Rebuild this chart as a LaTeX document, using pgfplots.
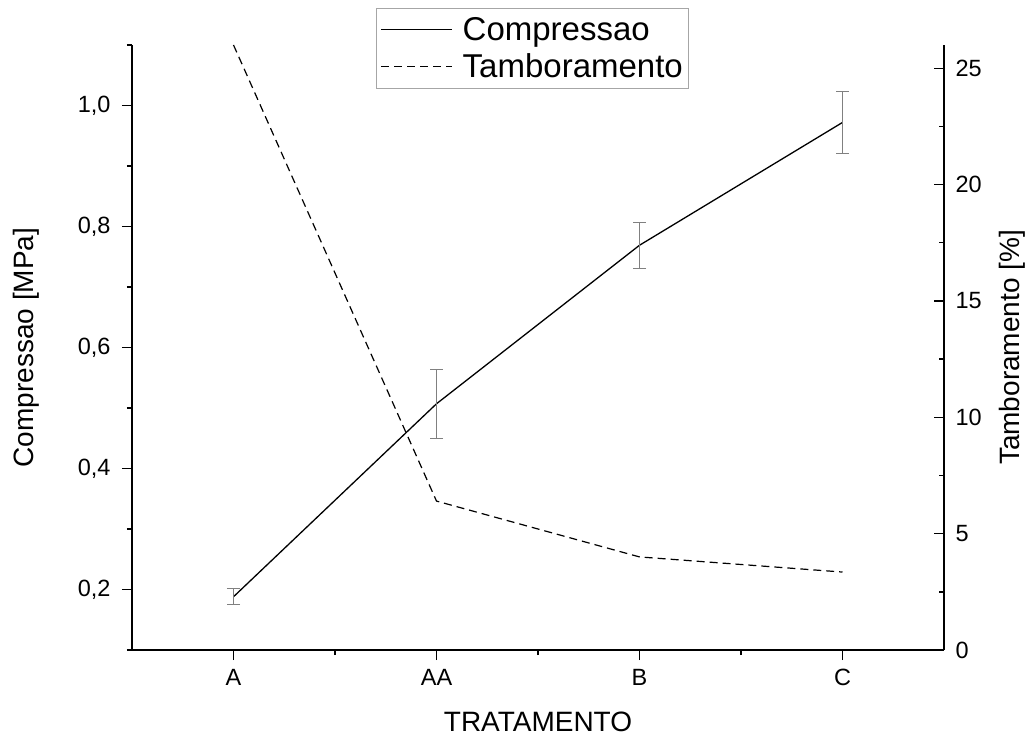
\documentclass[border=0pt]{standalone}
\usepackage{fontspec}
\setmainfont{Liberation Sans}
\usepackage{pgfplots}
\pgfplotsset{compat=1.18}
\begin{document}
\begin{tikzpicture}
\path[use as bounding box] (-132pt,-86pt) rectangle (895pt,650pt);
\pgfplotsset{
  common/.style={
    scale only axis, width=812pt, height=605pt, at={(0,0)}, anchor=south west,
    xmin=-0.5, xmax=3.5,
    axis line style={-, line width=1.4pt},
    every tick/.style={black, line width=1.4pt},
    major tick length=10pt, minor tick length=5pt,
    tick label style={font=\fontsize{23.5}{27}\selectfont},
    /pgf/number format/assume math mode=true,
    label style={font=\fontsize{28}{32}\selectfont},
  }
}
\begin{axis}[common,
  ymin=0.1, ymax=1.1,
  axis x line*=bottom, axis y line*=left,
  tick align=outside,
  xtick={0,1,2,3}, xticklabels={A,AA,B,C},
  minor xtick={0.5,1.5,2.5},
  ytick={0.2,0.4,0.6,0.8,1.0}, minor ytick={0.1,0.3,0.5,0.7,0.9,1.1},
  yticklabel style={xshift=-8pt, /pgf/number format/.cd, use comma, fixed, fixed zerofill, precision=1},
  xticklabel style={yshift=-6pt},
  xlabel={TRATAMENTO}, ylabel={Compressao [MPa]},
  xlabel style={at={(axis description cs:0.5,-0.118)}, anchor=center},
  ylabel style={at={(axis description cs:-0.1300,0.5)}, anchor=center, rotate=0},
]
\addplot[black, line width=1.3pt,
  error bars/.cd, y dir=both, y explicit,
  error bar style={gray, line width=1pt},
  error mark options={gray, rotate=90, mark size=6.5pt, line width=1pt}]
  coordinates {
    (0,0.188) +- (0,0.0135)
    (1,0.507) +- (0,0.057)
    (2,0.769) +- (0,0.038)
    (3,0.972) +- (0,0.0515)
  };
\end{axis}
\begin{axis}[common,
  ymin=0, ymax=26,
  axis x line=none, axis y line*=right,
  tick align=inside,
  ytick={0,5,10,15,20,25}, minor ytick={2.5,7.5,12.5,17.5,22.5},
  yticklabel style={xshift=8pt},
  ylabel={Tamboramento [\%]},
  ylabel style={at={(axis description cs:1.0837,0.5)}, anchor=center},
  legend style={at={(axis description cs:0.3005,1.061)}, anchor=north west,
    draw=gray!70, line width=0.8pt, font=\fontsize{33}{36}\selectfont,
    inner xsep=4pt, inner ysep=7pt, row sep=8pt,
    /tikz/every odd column/.append style={column sep=8pt}},
  legend cell align=left,
  legend image code/.code={\draw[#1] (0pt,0pt) -- (71pt,0pt);},
]
\addlegendimage{black, line width=1.3pt}
\addlegendentry{Compressao}
\addplot[black, line width=1.2pt, dash pattern=on 8pt off 5pt]
  coordinates {(0,26) (1,6.4) (2,4.0) (3,3.35)};
\addlegendentry{Tamboramento}
\end{axis}
\end{tikzpicture}
\end{document}
